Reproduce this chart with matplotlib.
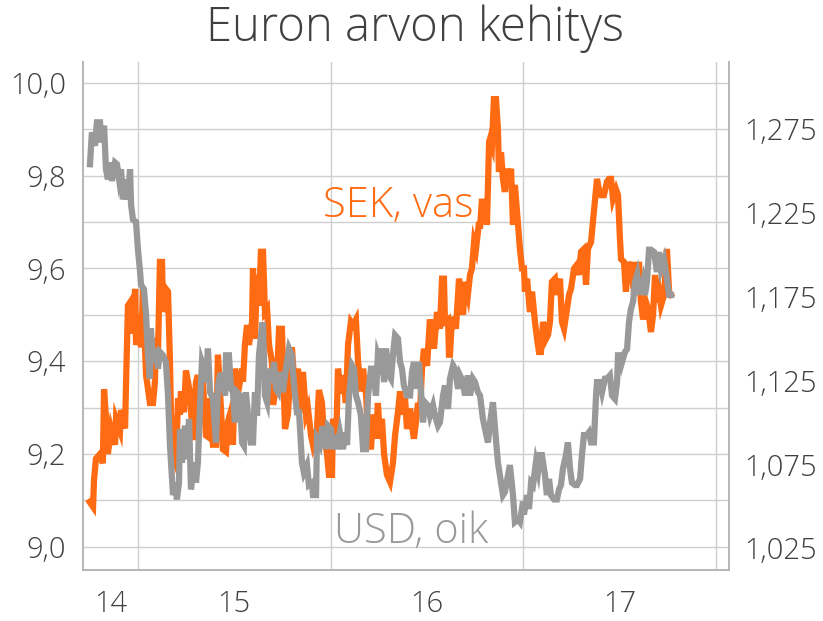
import matplotlib
matplotlib.use("Agg")
import matplotlib.pyplot as plt

plt.rcParams['font.family'] = ['Open Sans', 'DejaVu Sans']
plt.rcParams['font.weight'] = 'light'

# EUR/SEK (left axis), x in decimal years
sek_x = [2014.749, 2014.767, 2014.772, 2014.782, 2014.803, 2014.818, 2014.824, 2014.834,
         2014.844, 2014.860, 2014.881, 2014.886, 2014.907, 2014.912, 2014.933, 2014.938,
         2014.948, 2014.964, 2014.974, 2014.985, 2014.990, 2015.010, 2015.016, 2015.026,
         2015.036, 2015.042, 2015.062, 2015.078, 2015.088, 2015.093, 2015.104, 2015.114,
         2015.125, 2015.130, 2015.145, 2015.156, 2015.166, 2015.171, 2015.182, 2015.197,
         2015.208, 2015.218, 2015.223, 2015.239, 2015.249, 2015.260, 2015.270, 2015.285,
         2015.301, 2015.311, 2015.322, 2015.337, 2015.353, 2015.363, 2015.374, 2015.389,
         2015.405, 2015.415, 2015.426, 2015.441, 2015.457, 2015.467, 2015.477, 2015.493,
         2015.503, 2015.519, 2015.540, 2015.545, 2015.555, 2015.566, 2015.576, 2015.592,
         2015.597, 2015.607, 2015.618, 2015.628, 2015.638, 2015.649, 2015.659, 2015.670,
         2015.680, 2015.695, 2015.701, 2015.721, 2015.732, 2015.747, 2015.763, 2015.778,
         2015.799, 2015.815, 2015.830, 2015.846, 2015.856, 2015.872, 2015.882, 2015.898,
         2015.908, 2015.929, 2015.939, 2015.955, 2015.965, 2015.981, 2015.991, 2016.007,
         2016.012, 2016.028, 2016.038, 2016.053, 2016.064, 2016.079, 2016.090, 2016.105,
         2016.116, 2016.131, 2016.142, 2016.157, 2016.168, 2016.183, 2016.194, 2016.209,
         2016.220, 2016.235, 2016.245, 2016.256, 2016.266, 2016.277, 2016.292, 2016.308,
         2016.323, 2016.334, 2016.349, 2016.360, 2016.375, 2016.386, 2016.396, 2016.412,
         2016.422, 2016.432, 2016.443, 2016.453, 2016.463, 2016.474, 2016.484, 2016.500,
         2016.515, 2016.526, 2016.536, 2016.552, 2016.567, 2016.578, 2016.588, 2016.593,
         2016.609, 2016.614, 2016.619, 2016.629, 2016.640, 2016.650, 2016.666, 2016.676,
         2016.687, 2016.697, 2016.712, 2016.723, 2016.733, 2016.744, 2016.754, 2016.770,
         2016.775, 2016.785, 2016.796, 2016.801, 2016.811, 2016.822, 2016.827, 2016.837,
         2016.847, 2016.858, 2016.868, 2016.873, 2016.884, 2016.894, 2016.904, 2016.915,
         2016.925, 2016.936, 2016.946, 2016.956, 2016.967, 2016.982, 2016.993, 2017.003,
         2017.008, 2017.019, 2017.034, 2017.045, 2017.060, 2017.071, 2017.081, 2017.091,
         2017.102, 2017.117, 2017.128, 2017.138, 2017.148, 2017.164, 2017.174, 2017.190,
         2017.200, 2017.211, 2017.226, 2017.237, 2017.247, 2017.263, 2017.278, 2017.288,
         2017.299, 2017.314, 2017.325, 2017.335, 2017.351, 2017.356, 2017.372, 2017.382,
         2017.392, 2017.403, 2017.418, 2017.434, 2017.444, 2017.455, 2017.465, 2017.481,
         2017.491, 2017.501, 2017.507, 2017.522, 2017.532, 2017.543, 2017.558, 2017.569,
         2017.574, 2017.590, 2017.600, 2017.610, 2017.621, 2017.636, 2017.647, 2017.662,
         2017.673, 2017.683, 2017.693, 2017.704, 2017.714, 2017.730, 2017.745, 2017.756,
         2017.766]
sek = [9.097, 9.086, 9.144, 9.19, 9.20, 9.18, 9.34, 9.28,
       9.20, 9.255, 9.22, 9.276, 9.25, 9.295, 9.255, 9.35,
       9.52, 9.53, 9.46, 9.556, 9.435, 9.50, 9.43, 9.556,
       9.435, 9.37, 9.31, 9.31, 9.355, 9.45, 9.42, 9.614,
       9.614, 9.506, 9.556, 9.55, 9.40, 9.29, 9.20, 9.18,
       9.32, 9.285, 9.335, 9.29, 9.38, 9.355, 9.33, 9.23,
       9.355, 9.37, 9.27, 9.355, 9.24, 9.237, 9.32, 9.22,
       9.22, 9.414, 9.335, 9.21, 9.205, 9.27, 9.285, 9.22,
       9.384, 9.33, 9.384, 9.356, 9.435, 9.478, 9.435, 9.485,
       9.60, 9.448, 9.586, 9.52, 9.636, 9.636, 9.506, 9.513,
       9.435, 9.40, 9.306, 9.356, 9.47, 9.47, 9.254, 9.285,
       9.43, 9.33, 9.384, 9.29, 9.377, 9.285, 9.298, 9.24,
       9.22, 9.254, 9.338, 9.31, 9.24, 9.20, 9.155, 9.155,
       9.276, 9.22, 9.384, 9.33, 9.37, 9.31, 9.435, 9.485,
       9.478, 9.49, 9.40, 9.335, 9.384, 9.33, 9.25, 9.21,
       9.285, 9.233, 9.31, 9.233, 9.276, 9.20, 9.155, 9.14,
       9.18, 9.24, 9.29, 9.335, 9.285, 9.32, 9.254, 9.298,
       9.263, 9.233, 9.27, 9.31, 9.285, 9.384, 9.427, 9.39,
       9.49, 9.463, 9.427, 9.506, 9.47, 9.578, 9.578, 9.485,
       9.49, 9.414, 9.414, 9.49, 9.49, 9.47, 9.578, 9.543,
       9.50, 9.571, 9.543, 9.586, 9.60, 9.657, 9.642, 9.70,
       9.686, 9.75, 9.707, 9.743, 9.694, 9.873, 9.88, 9.866,
       9.965, 9.965, 9.90, 9.808, 9.85, 9.793, 9.765, 9.815,
       9.78, 9.815, 9.694, 9.78, 9.722, 9.642, 9.60, 9.60,
       9.55, 9.578, 9.506, 9.55, 9.485, 9.448, 9.42, 9.42,
       9.485, 9.448, 9.457, 9.485, 9.571, 9.578, 9.543, 9.578,
       9.485, 9.47, 9.513, 9.543, 9.556, 9.60, 9.608, 9.586,
       9.636, 9.642, 9.565, 9.642, 9.657, 9.679, 9.75, 9.793,
       9.77, 9.758, 9.758, 9.787, 9.793, 9.793, 9.75, 9.77,
       9.758, 9.664, 9.62, 9.614, 9.55, 9.614, 9.586, 9.614,
       9.543, 9.586, 9.614, 9.528, 9.49, 9.528, 9.513, 9.463,
       9.50, 9.586, 9.528, 9.55, 9.52, 9.543, 9.642, 9.55,
       9.543]

# EUR/USD (right axis)
usd_x = [2014.751, 2014.761, 2014.777, 2014.787, 2014.803, 2014.808, 2014.824, 2014.834,
         2014.844, 2014.855, 2014.865, 2014.881, 2014.891, 2014.902, 2014.912, 2014.922,
         2014.938, 2014.948, 2014.959, 2014.964, 2014.974, 2014.990, 2015.000, 2015.010,
         2015.016, 2015.031, 2015.042, 2015.052, 2015.062, 2015.067, 2015.078, 2015.093,
         2015.104, 2015.114, 2015.130, 2015.145, 2015.156, 2015.166, 2015.182, 2015.192,
         2015.202, 2015.213, 2015.218, 2015.228, 2015.244, 2015.254, 2015.265, 2015.275,
         2015.291, 2015.301, 2015.311, 2015.322, 2015.332, 2015.343, 2015.353, 2015.363,
         2015.374, 2015.389, 2015.405, 2015.415, 2015.426, 2015.436, 2015.452, 2015.457,
         2015.472, 2015.483, 2015.493, 2015.503, 2015.514, 2015.529, 2015.540, 2015.550,
         2015.560, 2015.571, 2015.586, 2015.597, 2015.607, 2015.618, 2015.628, 2015.644,
         2015.649, 2015.659, 2015.670, 2015.680, 2015.695, 2015.706, 2015.716, 2015.727,
         2015.737, 2015.752, 2015.763, 2015.773, 2015.784, 2015.799, 2015.804, 2015.815,
         2015.825, 2015.836, 2015.851, 2015.861, 2015.877, 2015.887, 2015.903, 2015.908,
         2015.924, 2015.929, 2015.944, 2015.955, 2015.965, 2015.976, 2015.986, 2016.002,
         2016.012, 2016.022, 2016.033, 2016.048, 2016.064, 2016.074, 2016.085, 2016.095,
         2016.111, 2016.121, 2016.131, 2016.142, 2016.157, 2016.168, 2016.183, 2016.194,
         2016.209, 2016.220, 2016.235, 2016.245, 2016.256, 2016.266, 2016.277, 2016.287,
         2016.303, 2016.313, 2016.323, 2016.334, 2016.349, 2016.360, 2016.370, 2016.380,
         2016.396, 2016.412, 2016.422, 2016.432, 2016.443, 2016.458, 2016.469, 2016.479,
         2016.489, 2016.505, 2016.515, 2016.531, 2016.541, 2016.557, 2016.567, 2016.583,
         2016.593, 2016.609, 2016.619, 2016.635, 2016.645, 2016.661, 2016.671, 2016.687,
         2016.697, 2016.712, 2016.723, 2016.738, 2016.749, 2016.764, 2016.775, 2016.790,
         2016.801, 2016.816, 2016.827, 2016.842, 2016.853, 2016.868, 2016.878, 2016.894,
         2016.904, 2016.920, 2016.930, 2016.946, 2016.956, 2016.972, 2016.982, 2016.998,
         2017.003, 2017.019, 2017.029, 2017.040, 2017.050, 2017.065, 2017.076, 2017.086,
         2017.096, 2017.112, 2017.122, 2017.133, 2017.143, 2017.159, 2017.174, 2017.185,
         2017.195, 2017.205, 2017.221, 2017.231, 2017.242, 2017.252, 2017.268, 2017.278,
         2017.294, 2017.304, 2017.314, 2017.330, 2017.340, 2017.351, 2017.366, 2017.377,
         2017.382, 2017.397, 2017.408, 2017.423, 2017.434, 2017.449, 2017.460, 2017.475,
         2017.486, 2017.491, 2017.507, 2017.512, 2017.527, 2017.538, 2017.548, 2017.558,
         2017.569, 2017.579, 2017.590, 2017.600, 2017.610, 2017.621, 2017.631, 2017.641,
         2017.652, 2017.662, 2017.678, 2017.693, 2017.704, 2017.714, 2017.730, 2017.745,
         2017.756, 2017.766]
usd = [1.254, 1.273, 1.265, 1.279, 1.279, 1.267, 1.277, 1.251,
       1.245, 1.255, 1.244, 1.255, 1.254, 1.245, 1.251, 1.233,
       1.245, 1.233, 1.251, 1.230, 1.221, 1.2195, 1.203, 1.191,
       1.182, 1.1795, 1.164, 1.140, 1.126, 1.156, 1.136, 1.144,
       1.132, 1.142, 1.140, 1.136, 1.116, 1.0865, 1.0566, 1.064,
       1.054, 1.064, 1.096, 1.076, 1.098, 1.078, 1.102, 1.060,
       1.076, 1.064, 1.076, 1.110, 1.136, 1.132, 1.124, 1.144,
       1.118, 1.114, 1.088, 1.122, 1.128, 1.128, 1.116, 1.140,
       1.140, 1.120, 1.118, 1.100, 1.118, 1.116, 1.088, 1.086,
       1.118, 1.104, 1.088, 1.088, 1.118, 1.104, 1.140, 1.158,
       1.158, 1.116, 1.112, 1.132, 1.124, 1.136, 1.120, 1.118,
       1.130, 1.118, 1.128, 1.136, 1.144, 1.140, 1.130, 1.116,
       1.106, 1.106, 1.076, 1.070, 1.0745, 1.0626, 1.064, 1.0566,
       1.0566, 1.090, 1.0865, 1.096, 1.096, 1.084, 1.098, 1.096,
       1.084, 1.0924, 1.084, 1.094, 1.084, 1.094, 1.0865, 1.116,
       1.134, 1.132, 1.116, 1.112, 1.104, 1.084, 1.084, 1.116,
       1.132, 1.132, 1.116, 1.140, 1.136, 1.144, 1.124, 1.144,
       1.128, 1.126, 1.140, 1.152, 1.150, 1.136, 1.132, 1.122,
       1.116, 1.116, 1.130, 1.136, 1.120, 1.136, 1.118, 1.100,
       1.112, 1.110, 1.104, 1.110, 1.104, 1.098, 1.100, 1.116,
       1.122, 1.108, 1.126, 1.134, 1.132, 1.120, 1.128, 1.124,
       1.116, 1.128, 1.116, 1.126, 1.124, 1.118, 1.116, 1.102,
       1.096, 1.088, 1.100, 1.112, 1.096, 1.076, 1.0685, 1.0566,
       1.0584, 1.0685, 1.0745, 1.0566, 1.0405, 1.042, 1.0405, 1.0527,
       1.045, 1.0566, 1.0483, 1.064, 1.0626, 1.076, 1.0705, 1.0805,
       1.0805, 1.0685, 1.0566, 1.0662, 1.0566, 1.054, 1.054, 1.060,
       1.0626, 1.0722, 1.0805, 1.088, 1.0722, 1.064, 1.0626, 1.0626,
       1.0662, 1.0805, 1.0924, 1.0924, 1.094, 1.088, 1.088, 1.116,
       1.124, 1.124, 1.118, 1.126, 1.126, 1.128, 1.116, 1.114,
       1.124, 1.140, 1.140, 1.136, 1.142, 1.1437, 1.160, 1.1676,
       1.172, 1.1837, 1.188, 1.1777, 1.1777, 1.1837, 1.176, 1.1837,
       1.203, 1.203, 1.2016, 1.1897, 1.2016, 1.1914, 1.197, 1.1855,
       1.176, 1.176]

title = "Euron arvon kehitys"
year_bounds = [2015, 2016, 2017, 2018]
year_label_pos = [2014.857, 2015.5, 2016.5, 2017.5]
year_labels = ["14", "15", "16", "17"]
left_ticks = [9.0, 9.1, 9.2, 9.3, 9.4, 9.5, 9.6, 9.7, 9.8, 9.9, 10.0]
right_ticks = [1.025, 1.075, 1.125, 1.175, 1.225, 1.275]

ORANGE = "#ff6b12"
GREY = "#999999"
TXT = "#404040"
GRID = "#cfcfcf"
SPINE = "#b5b5b5"

fig = plt.figure(figsize=(8.23, 6.21), dpi=100)
ax = fig.add_axes([0.1009, 0.0821, 0.7849, 0.8181])
ax2 = ax.twinx()

ax.plot(sek_x, sek, color=ORANGE, lw=4.5, solid_joinstyle="miter")
ax2.plot(usd_x, usd, color=GREY, lw=4.5, solid_joinstyle="miter")

ax.set_xlim(2014.715, 2018.067)
ax.set_ylim(8.950, 10.045)
ax2.set_ylim(1.0119, 1.315)

# year boundaries carry the grid, labels sit in the middle of each year
ax.set_xticks(year_bounds)
ax.set_xticklabels([])
ax.set_xticks(year_label_pos, minor=True)
ax.set_xticklabels(year_labels, minor=True)
ax.tick_params(axis="x", which="both", length=0)
ax.tick_params(axis="x", which="minor", pad=14, labelsize=21, labelcolor=TXT)

ax.set_yticks(left_ticks)
ax.set_yticklabels([("%.1f" % v).replace(".", ",") if i % 2 == 0 else ""
                    for i, v in enumerate(left_ticks)])
ax.tick_params(axis="y", length=0, pad=12, labelsize=21, labelcolor=TXT)

ax2.set_yticks(right_ticks)
ax2.set_yticklabels([("%.3f" % v).replace(".", ",") for v in right_ticks])
ax2.tick_params(axis="y", length=0, pad=11, labelsize=21, labelcolor=TXT)

ax.grid(True, which="major", color=GRID, lw=1)
ax.set_axisbelow(True)

for a in (ax, ax2):
    a.spines["top"].set_visible(False)
    for s in ("left", "right", "bottom"):
        a.spines[s].set_color(SPINE)
        a.spines[s].set_linewidth(1.2)

fig.text(0.504, 0.953, title, ha="center", va="center", fontsize=34, color=TXT)
ax.text(0.484, 0.668, "SEK, vas", transform=fig.transFigure, ha="center",
        va="center", fontsize=30, color=ORANGE)
ax.text(0.499, 0.143, "USD, oik", transform=fig.transFigure, ha="center",
        va="center", fontsize=30, color=GREY)

fig.savefig("out.png", dpi=100)
